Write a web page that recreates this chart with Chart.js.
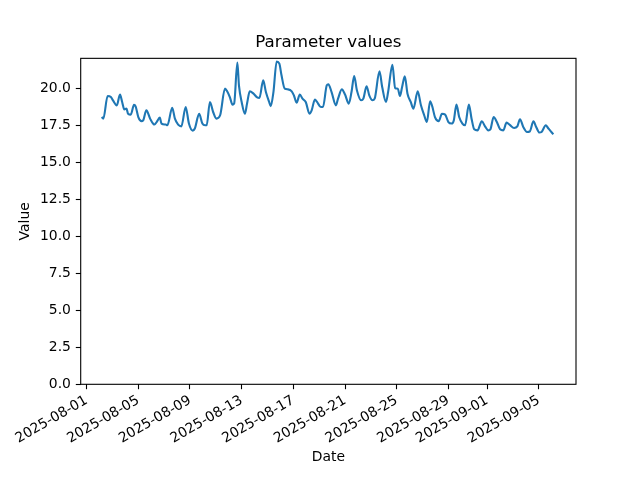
<!DOCTYPE html>
<html>
<head>
<meta charset="utf-8">
<script src="https://cdn.jsdelivr.net/npm/chart.js@4"></script>
<style>
html,body{margin:0;padding:0;background:#fff;}
canvas{display:block;}
</style>
</head>
<body>
<canvas id="c" width="640" height="480"></canvas>
<script>
// ---- data ----
const startDate = '2025-08-01T00:00:00Z';
// hours elapsed since startDate for each sample
const hoursFromStart = [
  28,31,39,45,49,56,62,66,70,74,77,82,88,91,96,102,105,111,118,126,
  130,136,139,147,150,159,164,170,176,184,190,197,201,209,215,220,223,229,235,241,
  248,257,261,266,271,274,280,283,288,294,298,303,310,316,321,328,333,339,342,347,
  353,358,362,368,374,381,385,390,396,401,407,414,418,424,428,435,439,446,449,455,
  463,467,474,480,487,492,497,502,510,514,520,525,531,535,544,549,556,560,568,573,
  578,582,586,591,596,602,607,615,621,627,632,638,642,647,654,660,666,672,678,682,
  687,692,698,703,710,715,720,726,734,740,746,750,756,762,768,774,780,786,794,800,
  805,811,818,823,830,835,841,845,853,857,864,867
];
const values = [
  18.08,17.97,19.50,19.43,19.20,18.87,19.60,19.10,18.60,18.65,18.30,18.24,18.90,18.80,18.08,17.80,17.85,18.53,17.97,17.57,
  17.74,18.04,17.64,17.57,17.52,18.70,17.97,17.57,17.45,18.76,17.64,17.16,17.30,18.30,17.64,17.52,17.52,19.10,18.42,17.97,
  18.20,20.00,19.82,19.43,18.92,18.99,21.76,20.20,19.10,18.30,18.99,19.82,19.66,19.43,19.37,20.56,19.77,19.10,18.82,19.77,
  21.84,21.69,20.90,20.00,19.95,19.82,19.55,19.05,19.60,19.32,19.10,18.30,18.53,19.26,19.10,18.76,18.76,20.22,20.30,19.77,
  18.87,19.32,19.95,19.60,18.99,19.77,20.85,19.89,19.21,19.32,20.16,19.55,19.21,19.32,21.17,20.11,19.10,19.77,21.62,20.04,
  20.00,19.50,20.11,20.83,19.66,19.10,18.65,19.82,18.87,18.20,17.74,19.14,18.80,18.08,17.80,18.30,18.24,17.74,17.64,17.85,
  18.92,18.08,17.64,17.52,18.92,17.97,17.25,17.18,17.79,17.45,17.18,17.25,18.08,17.74,17.25,17.18,17.70,17.55,17.34,17.45,
  17.93,17.41,17.07,17.10,17.79,17.41,17.03,17.07,17.52,17.34,17.03,16.91
];
const tickDates = ['2025-08-01','2025-08-05','2025-08-09','2025-08-13','2025-08-17',
  '2025-08-21','2025-08-25','2025-08-29','2025-09-01','2025-09-05'];
const yTicks = [0,2.5,5,7.5,10,12.5,15,17.5,20];
const chartTitle = 'Parameter values';
const xTitle = 'Date';
const yTitle = 'Value';

// ---- build ----
const t0 = Date.parse(startDate);
const tickHours = tickDates.map(d => (Date.parse(d + 'T00:00:00Z') - t0) / 3600000);
const points = hoursFromStart.map((h, i) => ({x: h, y: values[i]}));
function fmt(h) {
  const d = new Date(t0 + h * 3600000);
  const p = n => String(n).padStart(2, '0');
  return d.getUTCFullYear() + '-' + p(d.getUTCMonth() + 1) + '-' + p(d.getUTCDate());
}

const FONT = 'DejaVu Sans';
const frame = {
  id: 'frame',
  afterLayout(chart) {
    // center the title over the plot area, like matplotlib
    const t = chart.titleBlock, a = chart.chartArea;
    if (t) { t.left = a.left; t.right = a.right; t.width = a.right - a.left; }
  },
  afterDraw(chart) {
    const a = chart.chartArea, ctx = chart.ctx;
    ctx.save();
    ctx.strokeStyle = '#000';
    ctx.lineWidth = 1.1;
    ctx.strokeRect(a.left, a.top, a.right - a.left, a.bottom - a.top);
    ctx.restore();
  }
};

new Chart(document.getElementById('c'), {
  type: 'line',
  data: {
    datasets: [{
      data: points,
      borderColor: '#1f77b4',
      borderWidth: 2.1,
      pointRadius: 0,
      fill: false,
      cubicInterpolationMode: 'monotone'
    }]
  },
  options: {
    responsive: false,
    animation: false,
    devicePixelRatio: 1,
    layout: {padding: {left: 0, right: 64, top: 0, bottom: 0}},
    plugins: {
      legend: {display: false},
      tooltip: {enabled: false},
      title: {
        display: true, text: chartTitle, color: '#000',
        font: {family: FONT, size: 16.7, weight: 'normal'},
        padding: {top: 33, bottom: 5.3}
      }
    },
    scales: {
      x: {
        type: 'linear', min: -11, max: 909,
        afterBuildTicks: s => { s.ticks = tickHours.map(v => ({value: v})); },
        afterFit: s => { s.height = 95.7; },
        grid: {drawOnChartArea: false, drawTicks: true, tickLength: 4.9, tickColor: '#000', tickWidth: 1.1},
        border: {display: false},
        ticks: {
          autoSkip: false, maxRotation: 30, minRotation: 30, padding: 3,
          color: '#000', font: {family: FONT, size: 13.9},
          callback: v => fmt(v)
        },
        title: {display: true, text: xTitle, color: '#000',
          font: {family: FONT, size: 13.9}, padding: {top: 0, bottom: 14.7}}
      },
      y: {
        type: 'linear', min: 0, max: 22.05,
        afterBuildTicks: s => { s.ticks = yTicks.map(v => ({value: v})); },
        afterFit: s => { s.width = 80.7; },
        grid: {drawOnChartArea: false, drawTicks: true, tickLength: 4.9, tickColor: '#000', tickWidth: 1.1},
        border: {display: false},
        ticks: {padding: 4.9, color: '#000', font: {family: FONT, size: 13.9},
          callback: v => Number(v).toFixed(1)},
        title: {display: true, text: yTitle, color: '#000',
          font: {family: FONT, size: 13.9}, padding: {top: 17, bottom: 0}}
      }
    }
  },
  plugins: [frame]
});
</script>
</body>
</html>
